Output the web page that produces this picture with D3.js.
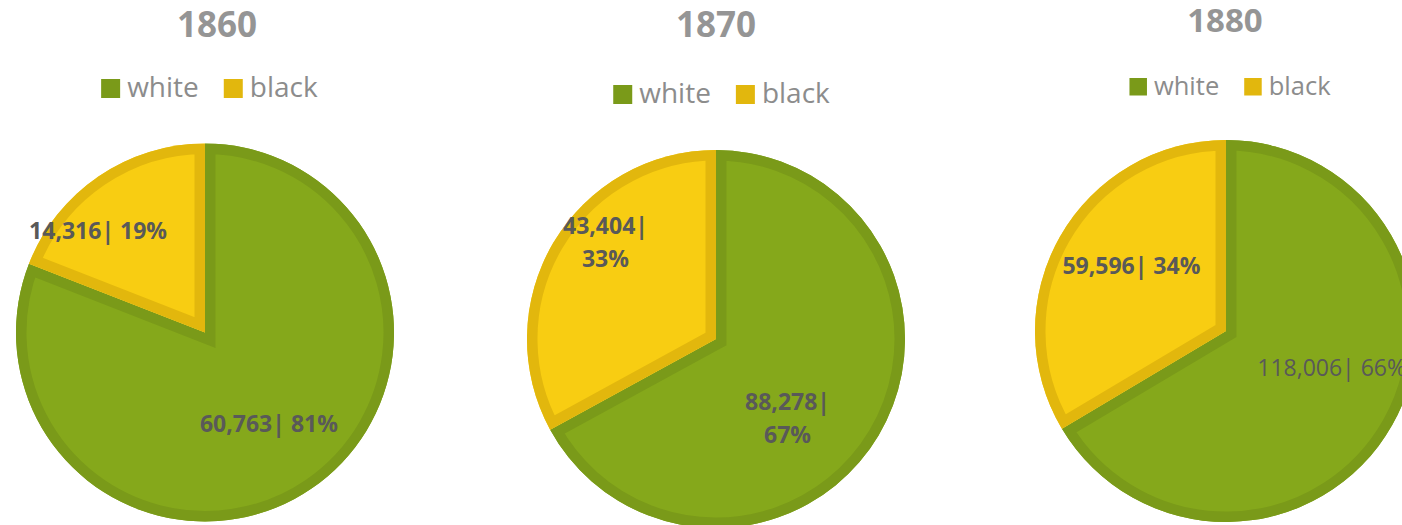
<!DOCTYPE html>
<html>
<head>
<meta charset="utf-8">
<script src="https://cdn.jsdelivr.net/npm/d3@7/dist/d3.min.js"></script>
<style>
  html, body { margin: 0; padding: 0; background: #ffffff; }
  svg { display: block; }
  text { font-family: "Open Sans", "Liberation Sans", sans-serif; }
</style>
</head>
<body>
<svg id="chart" width="1402" height="525"></svg>
<script>
// ---- data ----
const years = ["1860", "1870", "1880"];
const categories = ["white", "black"];
const whiteValues = [60763, 88278, 118006];
const blackValues = [14316, 43404, 59596];

// ---- styles ----
const fillColors = { white: "#85a81b", black: "#f8cd12" };
const borderColors = { white: "#7a9a19", black: "#e2b70d" };
const borderWidth = 10.5;

// ---- layout (per chart) ----
const layout = [
  { cx: 205, cy: 332.5, r: 189, titleX: 217, titleY: 36.7, titleSize: 35,
    legendCx: 209.4, legendTop: 79, sq: 19, legendSize: 28, labelSize: 23,
    wrap: false, labelWeights: { white: 700, black: 700 },
    nudge: { white: [0, -2], black: [-43, -8] } },
  { cx: 716, cy: 339, r: 189, titleX: 716, titleY: 37.3, titleSize: 35,
    legendCx: 721.5, legendTop: 85, sq: 19, legendSize: 28, labelSize: 23,
    wrap: true, labelWeights: { white: 700, black: 700 },
    nudge: { white: [-26, 21], black: [-13, -39] } },
  { cx: 1226, cy: 331, r: 191, titleX: 1225, titleY: 32.3, titleSize: 33,
    legendCx: 1230, legendTop: 78, sq: 17.5, legendSize: 25.5, labelSize: 23,
    wrap: false, labelWeights: { white: 400, black: 700 },
    nudge: { white: [6, -20], black: [5, -9] } }
];

const svg = d3.select("#chart");
const defs = svg.append("defs");
const fmt = d3.format(",");
const pie = d3.pie().sort(null).value(d => d.value).startAngle(0).endAngle(2 * Math.PI);

years.forEach((year, i) => {
  const L = layout[i];
  const data = [
    { cat: "white", value: whiteValues[i] },
    { cat: "black", value: blackValues[i] }
  ];
  const total = d3.sum(data, d => d.value);
  const arcs = pie(data);
  const arc = d3.arc().innerRadius(0).outerRadius(L.r);
  const labelArc = d3.arc().innerRadius(L.r * 0.6).outerRadius(L.r * 0.6);

  const g = svg.append("g").attr("transform", `translate(${L.cx},${L.cy})`);

  // slices with inner borders
  arcs.forEach((a, j) => {
    const id = `clip-${year}-${j}`;
    const d = arc(a);
    defs.append("clipPath").attr("id", id)
      .append("path").attr("d", d);
    const sg = g.append("g");
    sg.append("path").attr("d", d).attr("fill", fillColors[a.data.cat]);
    sg.append("path").attr("d", d)
      .attr("fill", "none")
      .attr("stroke", borderColors[a.data.cat])
      .attr("stroke-width", borderWidth * 2)
      .attr("stroke-linejoin", "miter")
      .attr("clip-path", `url(#${id})`);
  });

  // labels
  arcs.forEach(a => {
    const c = labelArc.centroid(a);
    const n = L.nudge[a.data.cat];
    const x = c[0] + n[0], y = c[1] + n[1];
    const pct = Math.round(a.data.value / total * 100) + "%";
    const t = g.append("text")
      .attr("x", x).attr("y", y)
      .attr("text-anchor", "middle")
      .attr("font-size", L.labelSize)
      .attr("font-weight", L.labelWeights[a.data.cat])
      .attr("fill", "#595959");
    if (L.wrap) {
      t.append("tspan").attr("x", x).attr("dy", "-0.35em").text(fmt(a.data.value) + "|");
      t.append("tspan").attr("x", x).attr("dy", "1.45em").text(pct);
    } else {
      t.attr("dy", "0.36em").text(fmt(a.data.value) + "| " + pct);
    }
  });

  // title
  svg.append("text")
    .attr("x", L.titleX).attr("y", L.titleY)
    .attr("text-anchor", "middle")
    .attr("font-size", L.titleSize)
    .attr("font-weight", 700)
    .attr("fill", "#959595")
    .text(year);

  // legend
  const lg = svg.append("g");
  let xpos = 0;
  categories.forEach((cat, k) => {
    const it = lg.append("g");
    it.append("rect").attr("x", xpos).attr("y", L.legendTop)
      .attr("width", L.sq).attr("height", L.sq)
      .attr("fill", borderColors[cat]);
    const tx = it.append("text")
      .attr("x", xpos + L.sq + 7)
      .attr("y", L.legendTop + L.sq - 1)
      .attr("font-size", L.legendSize)
      .attr("fill", "#8c8c8c")
      .text(cat);
    const w = tx.node().getComputedTextLength();
    xpos += L.sq + 7 + w + (k < categories.length - 1 ? 25 : 0);
  });
  lg.attr("transform", `translate(${L.legendCx - xpos / 2},0)`);
});
</script>
</body>
</html>
